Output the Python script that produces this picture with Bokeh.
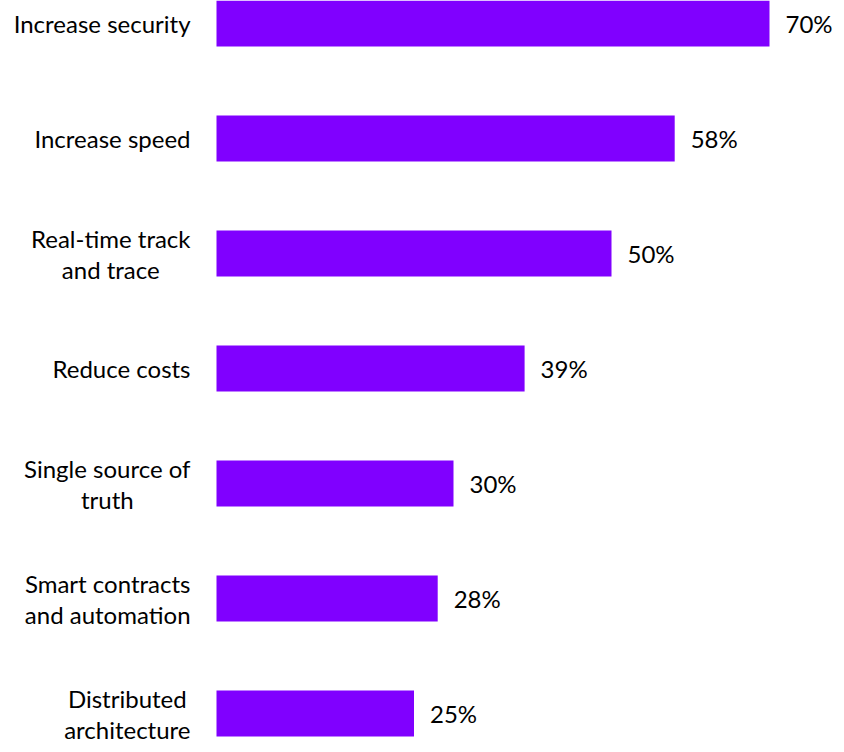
import glob
import subprocess
from bokeh.plotting import figure
from bokeh.models import Range1d, ColumnDataSource
from bokeh.core.properties import value
from bokeh.embed import file_html
from bokeh.resources import INLINE

categories = ["Increase security", "Increase speed", "Real-time track\nand trace",
              "Reduce costs", "Single source of\ntruth", "Smart contracts\nand automation",
              "Distributed\narchitecture"]
values = [70, 58, 50, 39, 30, 28, 25]
value_labels = [f"{v}%" for v in values]

FONT_NAME = "Lato"
FONT_PX = 24
GAP = 26          # px between label block and bar start
LINE_STEP = 31    # px between label lines
VAL_GAP = 16      # px between bar end and value label


def _font_path(name):
    try:
        out = subprocess.run(["fc-match", "-f", "%{file}", name],
                             capture_output=True, text=True, timeout=5).stdout.strip()
        if out:
            return out
    except Exception:
        pass
    hits = glob.glob(f"/usr/share/fonts/**/{name}-Regular.ttf", recursive=True)
    return hits[0] if hits else None


def _measurer():
    try:
        from PIL import ImageFont
        path = _font_path(FONT_NAME)
        f = ImageFont.truetype(path, FONT_PX)
        return lambda s: f.getlength(s)
    except Exception:
        return lambda s: 0.5 * FONT_PX * len(s)


measure = _measurer()

# one row per label line, each line centred inside its right-aligned block
ly, lx, ltxt, lxo, lyo = [], [], [], [], []
for i, cat in enumerate(categories):
    lines = cat.split("\n")
    block_w = max(measure(s) for s in lines)
    n = len(lines)
    for k, s in enumerate(lines):
        ly.append(i)
        lx.append(0)
        ltxt.append(s)
        lxo.append(-(GAP + block_w / 2))
        lyo.append((k - (n - 1) / 2) * LINE_STEP)

lab_src = ColumnDataSource(dict(x=lx, y=ly, t=ltxt, xo=lxo, yo=lyo))
pos = list(range(len(categories)))
src = ColumnDataSource(dict(y=pos, v=values, lab=value_labels))

W, H = 836, 744
PX_PER_UNIT = 7.9
BAR_LEFT_PX = 216
Y_STEP = 115.0
FIRST_CENTER = 23
p = figure(width=W, height=H, output_backend="svg", toolbar_location=None,
           x_range=Range1d(-BAR_LEFT_PX / PX_PER_UNIT, (W - BAR_LEFT_PX) / PX_PER_UNIT),
           y_range=Range1d(-FIRST_CENTER / Y_STEP + H / Y_STEP, -FIRST_CENTER / Y_STEP),
           min_border_left=0, min_border_right=0, min_border_top=0, min_border_bottom=0)
p.axis.visible = False
p.grid.visible = False
p.outline_line_color = None
p.background_fill_color = "white"
p.border_fill_color = "white"

p.hbar(y="y", left=0, right="v", height=46 / Y_STEP, source=src,
       fill_color="#8000FF", line_color=None)

FONT = value(FONT_NAME)
p.text(x="x", y="y", text="t", source=lab_src, x_offset="xo", y_offset="yo",
       text_align="center", text_baseline="middle", text_font=FONT,
       text_font_size=f"{FONT_PX}px", text_color="#000000")
p.text(x="v", y="y", text="lab", source=src, x_offset=VAL_GAP, text_align="left",
       text_baseline="middle", text_font=FONT, text_font_size=f"{FONT_PX}px",
       text_color="#000000")

open("out.html", "w").write(file_html(p, INLINE))
